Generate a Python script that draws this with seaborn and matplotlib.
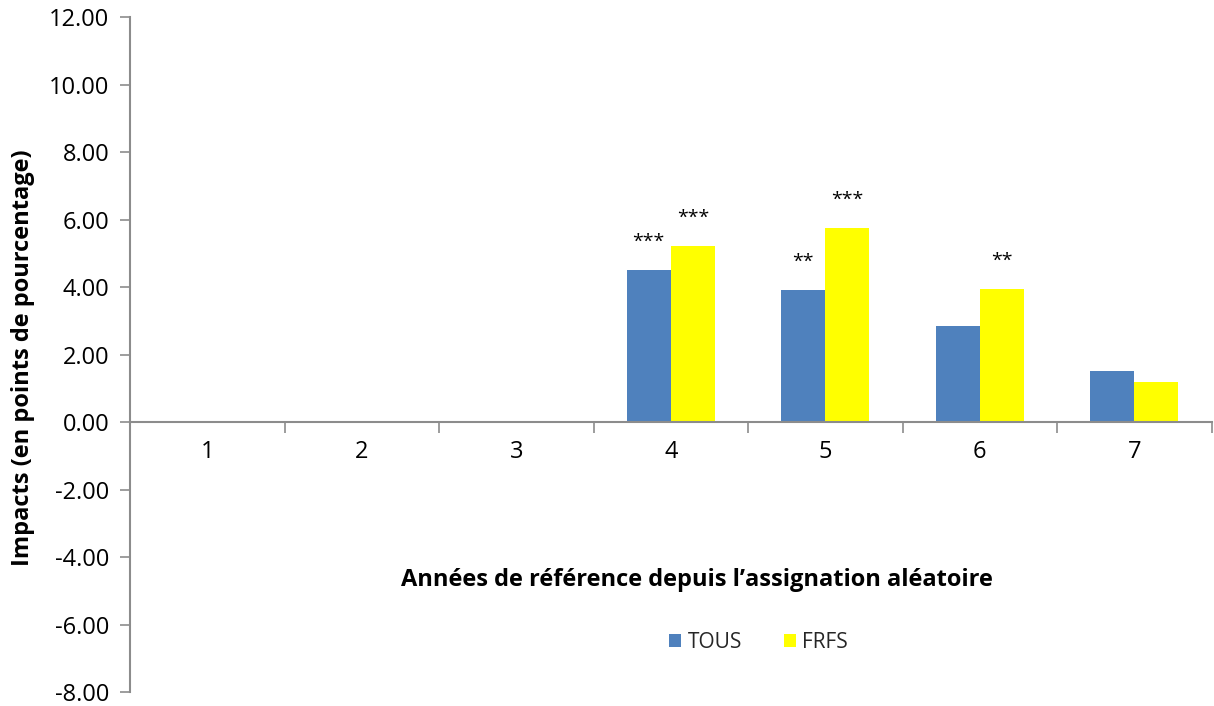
import numpy as np
import pandas as pd
import matplotlib
matplotlib.use("Agg")
import matplotlib.pyplot as plt
from matplotlib.patches import Patch
import seaborn as sns

# Impacts by reference year since random assignment (percentage points)
years = [1, 2, 3, 4, 5, 6, 7]
tous = [np.nan, np.nan, np.nan, 4.50, 3.91, 2.84, 1.51]
frfs = [np.nan, np.nan, np.nan, 5.23, 5.76, 3.94, 1.19]
stars_tous = ["", "", "", "***", "**", "", ""]
stars_frfs = ["", "", "", "***", "***", "**", ""]
groups = ["TOUS", "FRFS"]
colors = ["#4F81BD", "#FFFF00"]
yticks = [-8, -6, -4, -2, 0, 2, 4, 6, 8, 10, 12]

df = pd.DataFrame({
    "annee": years * 2,
    "impact": tous + frfs,
    "groupe": [groups[0]] * len(years) + [groups[1]] * len(years),
})

sns.set_theme(style="white")
plt.rcParams["font.family"] = ["Open Sans", "DejaVu Sans"]

fig = plt.figure(figsize=(12.14, 7.06), dpi=100)
ax = fig.add_axes([0.1071, 0.0198, 0.8909, 0.9561])

sns.barplot(data=df, x="annee", y="impact", hue="groupe", order=years,
            hue_order=groups, palette=colors, width=0.57, gap=0,
            saturation=1, errorbar=None, legend=False, ax=ax, linewidth=0)

ax.set_xlim(-0.5, len(years) - 0.5)
ax.set_ylim(-8, 12)
ax.set_yticks(yticks)
ax.set_yticklabels([f"{v:.2f}" for v in yticks])

# category boundaries as tick marks, labels centered between them
ax.set_xticks(np.arange(len(years) + 1) - 0.5)
ax.set_xticklabels([])
ax.set_xticks(np.arange(len(years)), minor=True)
ax.set_xticklabels([str(y) for y in years], minor=True)
ax.tick_params(axis="x", which="major", direction="out", length=8, width=1.2,
               color="#8C8C8C", bottom=True)
ax.tick_params(axis="x", which="minor", length=0, pad=13, labelsize=17,
               labelcolor="black")
ax.tick_params(axis="y", direction="out", length=7, width=1.2, color="#8C8C8C",
               left=True, pad=8, labelsize=17, labelcolor="black")

for side in ["top", "right"]:
    ax.spines[side].set_visible(False)
ax.spines["bottom"].set_position(("data", 0))
for side in ["left", "bottom"]:
    ax.spines[side].set_color("#8C8C8C")
    ax.spines[side].set_linewidth(1.5)
ax.set_xlabel("")
ax.set_ylabel("")

# significance stars above the bars
star_sets = [stars_tous, stars_frfs]
for container, stars in zip(ax.containers, star_sets):
    for bar in container:
        h = bar.get_height()
        if not np.isfinite(h):
            continue
        xc = bar.get_x() + bar.get_width() / 2
        s = stars[int(round(xc))]
        if s:
            ax.annotate(s, (xc, h), xytext=(0, 28), textcoords="offset pixels",
                        ha="center", va="center", fontsize=14, color="black")

ax.text(0.524, 0.166, "Années de référence depuis l\u2019assignation aléatoire",
        transform=ax.transAxes, ha="center", va="center", fontsize=17,
        fontweight="bold", color="black")

fig.text(0.019, 0.494, "Impacts (en points de pourcentage)", rotation=90,
         ha="center", va="center", fontsize=17, fontweight="bold", color="black")

handles = [Patch(facecolor=c, edgecolor="none") for c in colors]
ax.legend(handles, groups, loc="center", bbox_to_anchor=(0.581, 0.074), ncol=2,
          frameon=False, fontsize=15, handlelength=0.6, handleheight=0.6,
          columnspacing=2.0, handletextpad=0.3)

fig.savefig("out.png", dpi=100)
